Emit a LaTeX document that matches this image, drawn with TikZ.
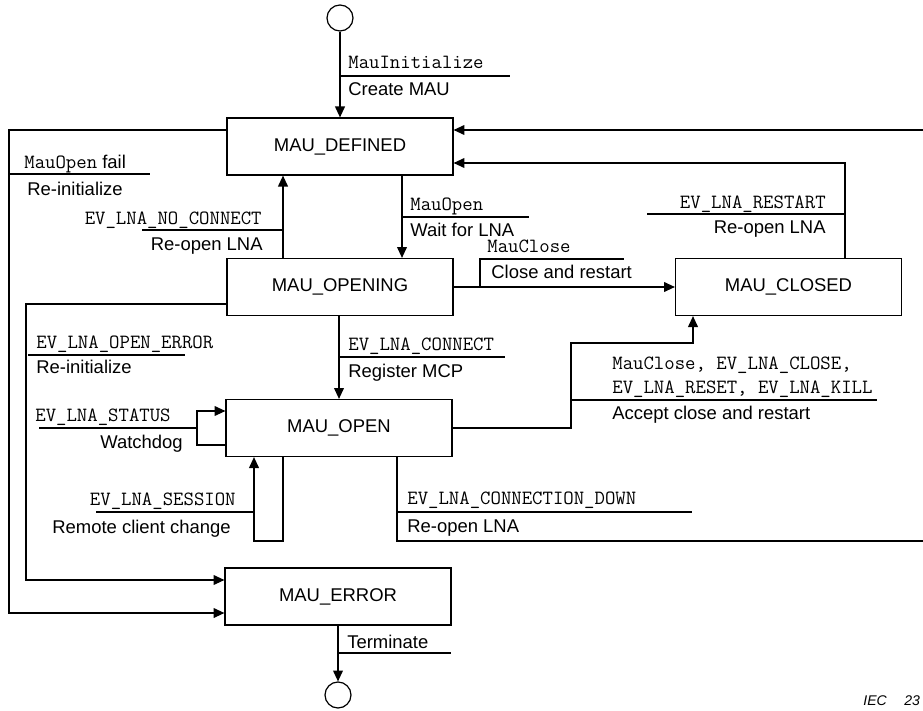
\documentclass[tikz,border=0pt]{standalone}
\usepackage{fontspec}
\setmainfont{Liberation Sans}
\usetikzlibrary{arrows.meta,calc}
\tikzset{
  state/.style={draw, line width=0.7pt, minimum width=4.52cm, minimum height=1.14cm, inner sep=0pt},
  term/.style={draw, circle, line width=0.7pt, minimum size=0.52cm, inner sep=0pt},
  trans/.style={-{Triangle[length=6.2pt,width=5.6pt]}, line width=0.7pt},
  bar/.style={line width=0.7pt},
  evt/.style={anchor=base west, inner sep=0pt, font=\fontsize{11.5}{13}\selectfont\ttfamily},
  act/.style={anchor=base west, inner sep=0pt},
}

\begin{document}
\begin{tikzpicture}[x={(0.02cm,0)}, y={(0,-0.02cm)}, font=\fontsize{10.5}{12}\selectfont]
  \clip (0,0) rectangle (923,710);
  % states
  \node[term] (start) at (340,18) {};
  \node[state] (defined) at (340,146.5) {MAU\_DEFINED};
  \node[state] (opening) at (340,287) {MAU\_OPENING};
  \node[state] (closed) at (788.5,287) {MAU\_CLOSED};
  \node[state] (open) at (339,428) {MAU\_OPEN};
  \node[state] (error) at (338,596.5) {MAU\_ERROR};
  \node[term] (stop) at (338,695) {};
  \coordinate (farright) at (923,130);
  \coordinate (farbottom) at (923,541);

  % transitions
  \draw[trans] (start) -- (defined);
  \draw[trans] (defined.south -| 402,0) -- (opening.north -| 402,0);
  \draw[trans] (opening.north -| 283,0) -- (defined.south -| 283,0);
  \draw[trans] (opening.east) -- (closed.west);
  \draw[trans] (closed.north -| 845,0) |- (defined.east |- 0,163);
  \draw[trans] (farright) -- (defined.east |- farright);
  \draw[trans] (defined.west |- 0,130) -| (9,613) -- (error.west |- 0,613);
  \draw[trans] (opening.west |- 0,304) -| (26,580) -- (error.west |- 0,580);
  \draw[trans] (opening.south -| open.north) -- (open.north);
  \draw[trans] (open.west |- 0,445) -| (197,411) -- (open.west |- 0,411);
  \draw[trans] (open.south -| 283,0) |- (254,541) -- (open.south -| 254,0);
  \draw[trans] (open.east) -| (571,343) -| (closed.south -| 693,0);
  \draw[bar] (open.south -| 397,0) |- (farbottom);
  \draw[trans] (error) -- (stop);

  % labels
  \draw[bar] (340,76) -- (510,76);
  \node[evt] (evInit) at (348,68) {MauInitialize};
  \node[act] (acInit) at (348,95) {Create MAU};

  \draw[bar] (9,174) -- (150,174);
  \node[act] (evFail) at (24,168) {{\fontsize{11.5}{13}\selectfont\ttfamily MauOpen} fail};
  \node[act] (acFail) at (27,195) {Re-initialize};

  \draw[bar] (142,230) -- (283,230);
  \node[evt, anchor=base east] (evNoConn) at (262,224) {EV\_LNA\_NO\_CONNECT};
  \node[act, anchor=base east] (acNoConn) at (263,250) {Re-open LNA};

  \draw[bar] (402,217) -- (529,217);
  \node[evt] (evOpen) at (410,210) {MauOpen};
  \node[act] (acOpen) at (410,236) {Wait for LNA};

  \draw[bar] (647,214) -- (845,214);
  \node[evt, anchor=base east] (evRestart) at (826,208) {EV\_LNA\_RESTART};
  \node[act, anchor=base east] (acRestart) at (826,233) {Re-open LNA};

  \draw[bar] (480,287) |- (624,259);
  \node[evt] (evClose) at (487,252) {MauClose};
  \node[act] (acClose) at (491,278) {Close and restart};

  \draw[bar] (28,355) -- (185,355);
  \node[evt] (evOpenErr) at (36,348) {EV\_LNA\_OPEN\_ERROR};
  \node[act] (acOpenErr) at (36,373) {Re-initialize};

  \draw[bar] (340,357) -- (505,357);
  \node[evt] (evConnect) at (348,350) {EV\_LNA\_CONNECT};
  \node[act] (acConnect) at (348,377) {Register MCP};

  \draw[bar] (39,428) -- (197,428);
  \node[evt] (evStatus) at (35,421) {EV\_LNA\_STATUS};
  \node[act, anchor=base east] (acStatus) at (183,448) {Watchdog};

  \draw[bar] (96,512) -- (254,512);
  \node[evt, anchor=base east] (evSession) at (236,505) {EV\_LNA\_SESSION};
  \node[act] (acSession) at (52,533) {Remote client change};

  \draw[bar] (571,400) -- (877,400);
  \node[evt] (evKill) at (612,369) {MauClose, EV\_LNA\_CLOSE,};
  \node[evt] (evKillb) at (612,393) {EV\_LNA\_RESET, EV\_LNA\_KILL};
  \node[act] (acKill) at (612,419) {Accept close and restart};

  \draw[bar] (397,512) -- (692,512);
  \node[evt] (evDown) at (407,504) {EV\_LNA\_CONNECTION\_DOWN};
  \node[act] (acDown) at (407,532) {Re-open LNA};

  \draw[bar] (338,653) -- (451,653);
  \node[act] (acTerm) at (347,648) {Terminate};

  \node[anchor=base west, inner sep=0pt, font=\fontsize{8}{10}\selectfont\itshape] (iec) at (863,705) {IEC\hspace{10pt}23};
\end{tikzpicture}
\end{document}
